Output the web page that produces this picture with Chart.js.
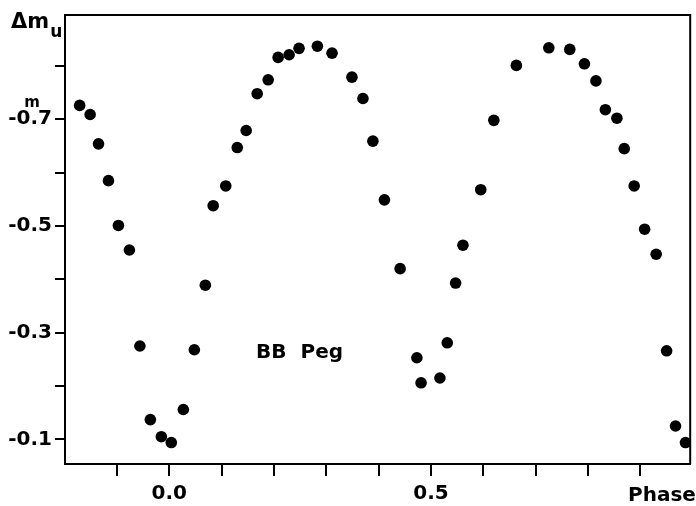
<!DOCTYPE html>
<html>
<head>
<meta charset="utf-8">
<script src="https://cdn.jsdelivr.net/npm/chart.js@4/dist/chart.umd.min.js"></script>
<style>
html,body{margin:0;padding:0;background:#fff;}
#wrap{width:696px;height:506px;position:relative;}
</style>
</head>
<body>
<div id="wrap"><canvas id="c" width="696" height="506"></canvas></div>
<script>
// Data (phase vs. Δm_u)
const phase = [-0.171,-0.151,-0.135,-0.116,-0.097,-0.076,-0.056,-0.036,-0.015,0.004,
  0.027,0.048,0.069,0.084,0.108,0.130,0.147,0.168,0.189,0.208,
  0.229,0.248,0.283,0.311,0.349,0.370,0.389,0.411,0.441,0.473,
  0.481,0.517,0.531,0.547,0.561,0.595,0.620,0.663,0.725,0.765,
  0.793,0.815,0.833,0.855,0.869,0.888,0.908,0.930,0.950,0.967,0.986];
const deltaMu = [-0.726,-0.709,-0.654,-0.585,-0.501,-0.455,-0.275,-0.137,-0.105,-0.094,
  -0.156,-0.268,-0.389,-0.538,-0.575,-0.647,-0.679,-0.748,-0.774,-0.816,
  -0.821,-0.833,-0.837,-0.824,-0.779,-0.739,-0.659,-0.549,-0.420,-0.253,
  -0.206,-0.215,-0.281,-0.393,-0.464,-0.568,-0.698,-0.801,-0.834,-0.831,
  -0.804,-0.772,-0.718,-0.702,-0.645,-0.575,-0.494,-0.447,-0.266,-0.125,-0.094];

const xTickValues = [-0.1,0.0,0.1,0.2,0.3,0.4,0.5,0.6,0.7,0.8,0.9];
const xTickLabels = ['','0.0','','','','','0.5','','','',''];
const yTickValues = [-0.8,-0.7,-0.6,-0.5,-0.4,-0.3,-0.2,-0.1];
const yTickLabels = ['','-0.7','','-0.5','','-0.3','','-0.1'];

const starName = 'BB  Peg';
const xAxisName = 'Phase';

const FONT = '"DejaVu Sans", "Liberation Sans", Arial, sans-serif';

const points = phase.map((p,i)=>({x:p, y:deltaMu[i]}));

const extras = {
  id:'extras',
  afterDraw(chart){
    const ctx = chart.ctx, a = chart.chartArea;
    const xs = chart.scales.x, ys = chart.scales.y;
    ctx.save();
    ctx.strokeStyle = '#000';
    ctx.lineWidth = 2;
    ctx.beginPath();
    ctx.moveTo(a.left, a.top);
    ctx.lineTo(a.right, a.top);
    ctx.lineTo(a.right, a.bottom);
    ctx.stroke();
    ctx.fillStyle = '#000';
    // axis title Δm_u
    ctx.textBaseline = 'alphabetic';
    ctx.textAlign = 'left';
    ctx.font = 'bold 21px ' + FONT;
    ctx.fillText('\u0394m', 11, 28);
    const w = ctx.measureText('\u0394m').width;
    ctx.font = 'bold 17px ' + FONT;
    ctx.fillText('u', 11 + w + 1, 37);
    // unit marker "m" above -0.7
    ctx.font = 'bold 15px ' + FONT;
    ctx.textAlign = 'center';
    ctx.fillText('m', 32, 107);
    // star name
    ctx.font = 'bold 20px ' + FONT;
    ctx.textAlign = 'left';
    ctx.fillText(starName, xs.getPixelForValue(0.166), ys.getPixelForValue(-0.253));
    // x axis name at the right end
    ctx.textAlign = 'center';
    ctx.fillText(xAxisName, xs.getPixelForValue(0.941), 501);
    ctx.restore();
  }
};

new Chart(document.getElementById('c'), {
  type:'scatter',
  data:{datasets:[{
    data:points,
    backgroundColor:'#000',
    borderColor:'#000',
    pointRadius:5.8,
    pointHoverRadius:5.8,
    borderWidth:0
  }]},
  options:{
    responsive:false,
    animation:false,
    devicePixelRatio:1,
    layout:{padding:{left:0,right:3,top:13,bottom:0}},
    plugins:{legend:{display:false},tooltip:{enabled:false}},
    scales:{
      x:{
        type:'linear',
        min:-0.199, max:0.995,
        afterBuildTicks(s){ s.ticks = xTickValues.map(v=>({value:v})); },
        afterFit(s){ s.height = 42; },
        grid:{drawOnChartArea:false, drawTicks:true, tickLength:12, color:'#000', lineWidth:2},
        border:{display:true, color:'#000', width:2},
        ticks:{
          padding:6,
          color:'#000',
          maxRotation:0,
          autoSkip:false,
          font:{family:FONT, size:20, weight:'bold'},
          callback(v){ const i = xTickValues.findIndex(t=>Math.abs(t-v)<1e-9); return i>=0 ? xTickLabels[i] : ''; }
        }
      },
      y:{
        type:'linear',
        reverse:true,
        min:-0.8955, max:-0.0538,
        afterBuildTicks(s){ s.ticks = yTickValues.map(v=>({value:v})); },
        afterFit(s){ s.width = 65; },
        grid:{drawOnChartArea:false, drawTicks:true, tickLength:10, color:'#000', lineWidth:2},
        border:{display:true, color:'#000', width:2},
        ticks:{
          padding:3,
          color:'#000',
          autoSkip:false,
          font:{family:FONT, size:20, weight:'bold'},
          callback(v){ const i = yTickValues.findIndex(t=>Math.abs(t-v)<1e-9); return i>=0 ? yTickLabels[i] : ''; }
        }
      }
    }
  },
  plugins:[extras]
});
</script>
</body>
</html>
